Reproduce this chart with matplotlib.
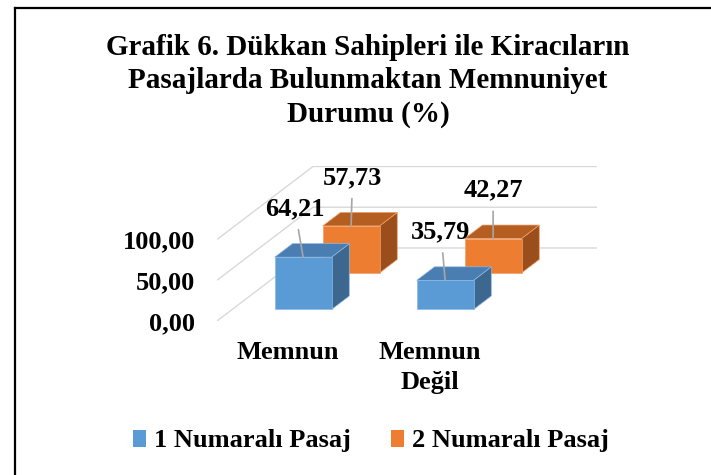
import matplotlib
matplotlib.use("Agg")
import matplotlib.pyplot as plt
from matplotlib.patches import Polygon, Patch
from matplotlib.lines import Line2D

# ---- data ----
title = "Grafik 6. Dükkan Sahipleri ile Kiracıların\nPasajlarda Bulunmaktan Memnuniyet\nDurumu (%)"
categories = ["Memnun", "Memnun\nDeğil"]
series_names = ["1 Numaralı Pasaj", "2 Numaralı Pasaj"]
pasaj1 = [64.21, 35.79]
pasaj2 = [57.73, 42.27]
yticks = [0, 50, 100]
ytick_labels = ["0,00", "50,00", "100,00"]

# ---- style ----
FONT = "Liberation Serif"
front_cols = ["#5B9BD5", "#ED7D31"]
top_cols = ["#4A7EB2", "#B55E22"]
side_cols = ["#3C6890", "#9A4E1C"]
edge_cols = ["#8DB8E2", "#F2A06A"]
grid_col = "#D9D9D9"
DX, DY = 0.676, 89.6      # oblique depth vector (category units, value units)
HALF_W = 0.2
DEPTH = 0.185
YMAX = 100
FS = 19

fig = plt.figure(figsize=(7.11, 4.75), dpi=100)

# frame (left and top border)
fig.add_artist(Line2D([15/711, 15/711], [0, 1 - 8/475], transform=fig.transFigure,
                      color="black", lw=1.6, solid_capstyle="projecting"))
fig.add_artist(Line2D([15/711, 1], [1 - 8/475, 1 - 8/475], transform=fig.transFigure,
                      color="black", lw=1.6, solid_capstyle="projecting"))

fig.text(368/711, 1 - 81/475, title, ha="center", va="center", fontsize=21,
         fontweight="bold", family=FONT, linespacing=1.3)

ax = fig.add_axes([217/711, 1 - 321/475, (2 + DX) * 142 / 711, (YMAX + DY) * 0.815 / 475])
ax.set_xlim(0, 2 + DX)
ax.set_ylim(0, YMAX + DY)
for s in ax.spines.values():
    s.set_visible(False)
ax.patch.set_visible(False)

def P(x, d, z):
    return (x + d * DX, z + d * DY)

# gridlines (left wall + back wall)
ncat = len(categories)
for v in yticks:
    xs = [0, DX, ncat + DX]
    ys = [v, v + DY, v + DY]
    ax.plot(xs, ys, color=grid_col, lw=1.0, zorder=1, solid_capstyle="butt")

data = [pasaj1, pasaj2]
label_dx = [[-6, -3], [1, 0]]
# draw back series first
for si in [1, 0]:
    d0 = 0.25 + 0.5 * si - DEPTH / 2
    d1 = d0 + DEPTH
    for ci, v in enumerate(data[si]):
        cx = ci + 0.5
        l, r = cx - HALF_W, cx + HALF_W
        front = [P(l, d0, 0), P(r, d0, 0), P(r, d0, v), P(l, d0, v)]
        top = [P(l, d0, v), P(r, d0, v), P(r, d1, v), P(l, d1, v)]
        side = [P(r, d0, 0), P(r, d1, 0), P(r, d1, v), P(r, d0, v)]
        z = 3 + (1 - si) * 3
        ax.add_patch(Polygon(side, closed=True, fc=side_cols[si], ec=edge_cols[si], lw=0.5, zorder=z))
        ax.add_patch(Polygon(top, closed=True, fc=top_cols[si], ec=edge_cols[si], lw=0.5, zorder=z + 0.5))
        ax.add_patch(Polygon(front, closed=True, fc=front_cols[si], ec=edge_cols[si], lw=0.5, zorder=z + 1))
        lab = f"{v:.2f}".replace(".", ",")
        ax.annotate(lab, xy=P(cx, d0, v), xytext=(label_dx[si][ci], 35),
                    textcoords="offset points", ha="center", va="center",
                    fontsize=FS, fontweight="bold", family=FONT, zorder=20,
                    annotation_clip=False,
                    arrowprops=dict(arrowstyle="-", color="#A6A6A6", lw=1.2,
                                    shrinkA=5, shrinkB=0))

ax.set_yticks(yticks)
ax.set_yticklabels(ytick_labels, fontsize=FS, fontweight="bold", family=FONT)
ax.set_xticks([c + 0.5 for c in range(ncat)])
ax.set_xticklabels(categories, fontsize=FS, fontweight="bold", family=FONT, linespacing=1.4)
ax.tick_params(axis="y", length=0, pad=16)
ax.tick_params(axis="x", length=0, pad=14.5)

handles = [Patch(fc=front_cols[i], ec="none") for i in range(2)]
fig.legend(handles, series_names, loc="center", bbox_to_anchor=(371/711, 34/475), ncol=2,
           frameon=False, handlelength=0.5, handleheight=0.6, handletextpad=0.3,
           columnspacing=1.5, prop=dict(family=FONT, weight="bold", size=FS))

fig.savefig("out.png", dpi=100)
